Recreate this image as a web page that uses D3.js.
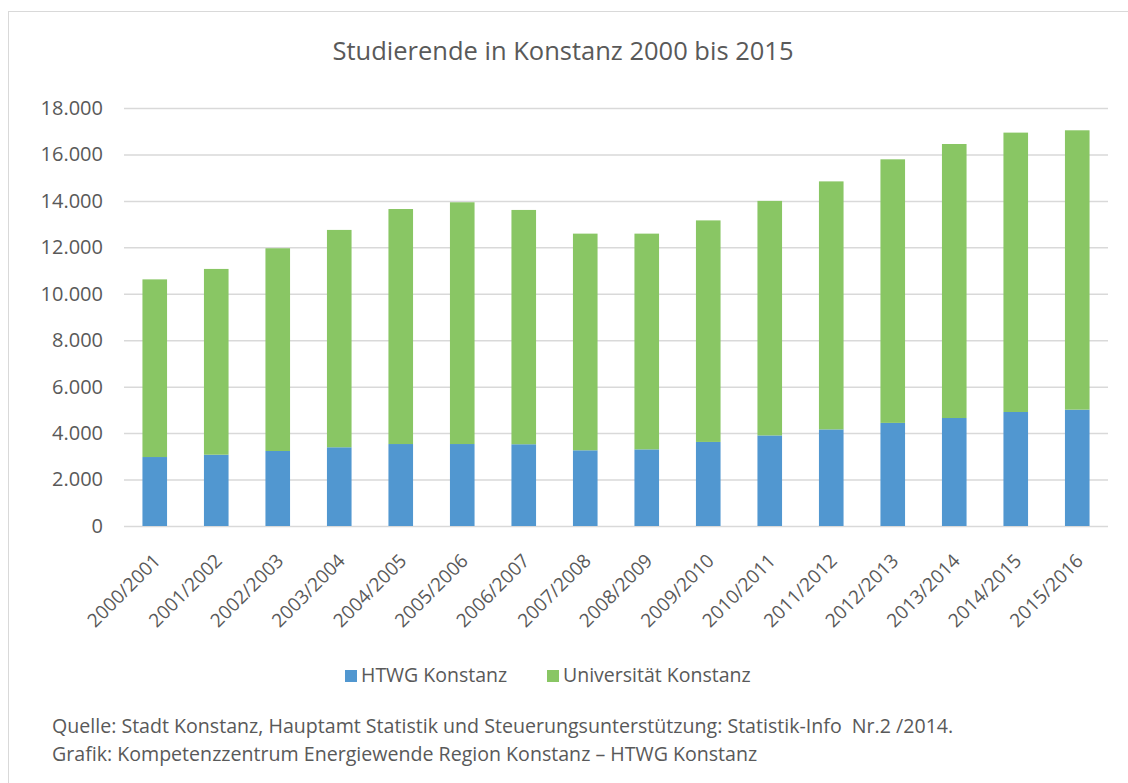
<!DOCTYPE html>
<html>
<head>
<meta charset="utf-8">
<script src="https://cdn.jsdelivr.net/npm/d3@7"></script>
<style>
  body { margin: 0; background: #fff; }
  text { font-family: "Open Sans", sans-serif; fill: #595959; }
</style>
</head>
<body>
<div id="chart"></div>
<script>
// data
const semesters = ["2000/2001", "2001/2002", "2002/2003", "2003/2004", "2004/2005", "2005/2006",
  "2006/2007", "2007/2008", "2008/2009", "2009/2010", "2010/2011", "2011/2012",
  "2012/2013", "2013/2014", "2014/2015", "2015/2016"];
const htwg = [2970, 3070, 3230, 3390, 3530, 3530, 3520, 3260, 3300, 3620, 3900, 4160, 4440, 4650, 4910, 5010];
const uni = [7650, 8000, 8730, 9360, 10120, 10410, 10090, 9330, 9290, 9540, 10100, 10680, 11350, 11800, 12030, 12030];
const seriesNames = ["HTWG Konstanz", "Universität Konstanz"];
const colors = ["#5197d0", "#89c664"];
const yTicks = [0, 2000, 4000, 6000, 8000, 10000, 12000, 14000, 16000, 18000];

function initChart() {
  const W = 1128, H = 783;
  const margin = {top: 108, left: 124},
      width = 1108 - margin.left,
      height = 526 - margin.top;

  const root = d3.select("#chart")
    .append("svg")
      .attr("width", W)
      .attr("height", H);

  // outer frame
  root.append("rect")
    .attr("x", 8.5).attr("y", 11.5)
    .attr("width", W + 20).attr("height", H + 20)
    .attr("fill", "none").attr("stroke", "#d9d9d9");

  root.append("text")
    .attr("x", 563).attr("y", 60)
    .attr("text-anchor", "middle")
    .style("font-size", "25.5px")
    .text("Studierende in Konstanz 2000 bis 2015");

  const svg = root.append("g")
    .attr("transform", `translate(${margin.left}, ${margin.top})`);

  const x = d3.scaleBand()
    .domain(semesters)
    .range([0, width])
    .paddingInner(0.6)
    .paddingOuter(0.3);

  const y = d3.scaleLinear()
    .domain([0, 18000])
    .range([height, 0]);

  const fmt = d3.formatLocale({decimal: ",", thousands: ".", grouping: [3], currency: ["", "€"]}).format(",d");

  // gridlines + y labels
  const yAxis = svg.append("g")
    .call(d3.axisLeft(y).tickValues(yTicks).tickSize(-width).tickFormat(fmt).tickPadding(21));
  yAxis.select(".domain").remove();
  yAxis.selectAll("line").attr("stroke", "#d9d9d9").attr("stroke-width", 1.5);
  yAxis.selectAll("text").style("font-size", "20px").attr("fill", "#595959");

  // x labels
  const xAxis = svg.append("g")
    .attr("transform", `translate(0, ${height})`)
    .call(d3.axisBottom(x).tickSize(0).tickPadding(0));
  xAxis.select(".domain").remove();
  xAxis.selectAll("text")
    .style("font-size", "19px")
    .attr("fill", "#595959")
    .attr("y", 0)
    .attr("dy", 0)
    .attr("transform", "translate(7,36)rotate(-45)")
    .style("text-anchor", "end");

  // stacked bars
  const table = semesters.map((s, i) => ({semester: s, htwg: htwg[i], uni: uni[i]}));
  const stacked = d3.stack().keys(["htwg", "uni"])(table);

  svg.selectAll("g.layer")
    .data(stacked)
    .enter()
    .append("g")
      .attr("class", "layer")
      .attr("fill", (d, i) => colors[i])
    .selectAll("rect")
    .data(d => d)
    .enter()
    .append("rect")
      .attr("x", d => x(d.data.semester))
      .attr("y", d => y(d[1]))
      .attr("width", x.bandwidth())
      .attr("height", d => y(d[0]) - y(d[1]));

  // legend
  const legend = root.append("g").attr("transform", "translate(0, 682)");
  const legendX = [345, 547];
  seriesNames.forEach((name, i) => {
    legend.append("rect")
      .attr("x", legendX[i]).attr("y", -12)
      .attr("width", 12).attr("height", 12)
      .attr("fill", colors[i]);
    legend.append("text")
      .attr("x", legendX[i] + 16).attr("y", 0)
      .style("font-size", "19.5px")
      .text(name);
  });

  // footnotes
  root.append("text")
    .attr("x", 52).attr("y", 733)
    .style("font-size", "19.6px")
    .style("white-space", "pre")
    .text("Quelle: Stadt Konstanz, Hauptamt Statistik und Steuerungsunterstützung: Statistik-Info  Nr.2 /2014.");
  root.append("text")
    .attr("x", 52).attr("y", 761)
    .style("font-size", "19.6px")
    .text("Grafik: Kompetenzzentrum Energiewende Region Konstanz – HTWG Konstanz");
}

document.addEventListener("DOMContentLoaded", () => initChart());
</script>
</body>
</html>
